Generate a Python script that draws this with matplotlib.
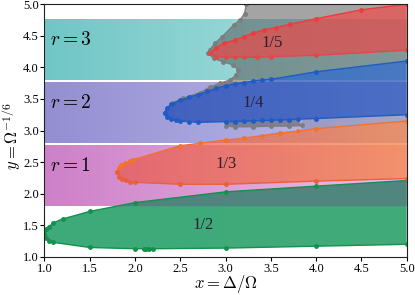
import numpy as np
import matplotlib
matplotlib.use("Agg")
import matplotlib.pyplot as plt
from matplotlib.patches import Polygon

plt.rcParams['font.family'] = 'serif'
plt.rcParams['font.serif'] = ['Liberation Serif', 'DejaVu Serif']
plt.rcParams['mathtext.fontset'] = 'cm'

# background bands r = 1, 2, 3
band_r = [1, 2, 3]
band_lo = [1.8, 2.8, 3.8]
band_hi = [2.75, 3.75, 4.75]

# 1/2 tongue (green)
g_up_x = [1.0, 1.02, 1.05, 1.1, 1.2, 1.5, 2.0, 3.0, 4.0, 5.0]
g_up_y = [1.37, 1.44, 1.48, 1.54, 1.60, 1.72, 1.86, 2.03, 2.12, 2.21]
g_lo_x = [1.0, 1.02, 1.05, 1.1, 1.5, 2.0, 2.1, 2.12, 2.15, 2.2, 3.0, 4.0, 5.0]
g_lo_y = [1.37, 1.30, 1.26, 1.23, 1.15, 1.13, 1.13, 1.13, 1.13, 1.13, 1.14, 1.17, 1.20]

# 1/3 tongue (orange)
o_up_x = [1.8, 1.82, 1.85, 1.89, 1.95, 1.98, 2.5, 2.72, 3.0, 3.2, 3.4, 3.6, 3.8, 4.0, 5.0]
o_up_y = [2.34, 2.41, 2.45, 2.48, 2.52, 2.54, 2.76, 2.80, 2.85, 2.88, 2.92, 2.96, 2.99, 3.03, 3.15]
o_lo_x = [1.8, 1.82, 1.86, 1.9, 1.95, 2.0, 2.5, 3.0, 4.0, 5.0]
o_lo_y = [2.34, 2.27, 2.24, 2.21, 2.19, 2.18, 2.15, 2.15, 2.20, 2.24]

# 1/4 tongue (blue)
b_up_x = [2.33, 2.35, 2.4, 2.5, 2.6, 2.7, 2.8, 2.9, 3.0, 3.1, 3.2, 3.3, 3.4, 3.5, 4.0, 5.0]
b_up_y = [3.28, 3.35, 3.42, 3.48, 3.53, 3.57, 3.62, 3.67, 3.71, 3.74, 3.76, 3.78, 3.80, 3.81, 3.93, 4.10]
b_lo_x = [2.33, 2.35, 2.4, 2.45, 2.5, 2.6, 2.7, 3.0, 3.1, 3.2, 3.3, 3.4, 3.5, 3.6, 3.7, 3.8, 4.0, 5.0]
b_lo_y = [3.28, 3.21, 3.18, 3.16, 3.15, 3.14, 3.13, 3.14, 3.14, 3.15, 3.15, 3.16, 3.16, 3.17, 3.17, 3.18, 3.19, 3.25]

# 1/5 tongue (red)
r_up_x = [2.83, 2.9, 2.98, 3.1, 3.2, 3.3, 3.42, 3.56, 3.71, 4.0, 4.5, 5.0]
r_up_y = [4.22, 4.31, 4.38, 4.43, 4.48, 4.54, 4.59, 4.63, 4.68, 4.77, 4.91, 5.0]
r_lo_x = [2.83, 2.9, 3.0, 3.1, 3.2, 3.35, 3.5, 4.0, 5.0]
r_lo_y = [4.22, 4.17, 4.16, 4.16, 4.16, 4.16, 4.17, 4.19, 4.27]

# grey region boundary (wiggly left edge, top to bottom)
gr_x = [3.23, 3.21, 3.16, 3.09, 2.96, 2.88, 2.83, 2.81, 2.87, 2.97, 3.08, 3.14, 3.12, 3.05, 2.94, 2.83, 2.72, 2.53, 2.42]
gr_y = [5.0, 4.85, 4.75, 4.67, 4.48, 4.38, 4.28, 4.22, 4.14, 4.09, 4.04, 3.96, 3.88, 3.80, 3.75, 3.69, 3.60, 3.51, 3.44]
# grey finger below the 1/4 tongue
fi_x = [3.84, 3.7, 3.5, 3.3, 3.1, 3.0]
fi_y = [3.08, 3.07, 3.07, 3.06, 3.06, 3.07]

labels = ['1/2', '1/3', '1/4', '1/5']
label_x = [2.75, 3.01, 3.31, 3.51]
label_y = [1.51, 2.47, 3.43, 4.38]

band_cols = [((205, 128, 200), (236, 192, 230)),
             ((148, 142, 210), (192, 192, 236)),
             ((112, 198, 198), (182, 228, 228))]


def hgrad(c0, c1, alpha=1.0, n=256):
    t = np.linspace(0, 1, n)[:, None]
    rgb = (1 - t) * np.array(c0) / 255 + t * np.array(c1) / 255
    a = np.full((n, 1), alpha)
    return np.concatenate([rgb, a], axis=1)[None, :, :]


def grad_poly(ax, xs, ys, c0, c1, alpha, z):
    patch = Polygon(np.column_stack([xs, ys]), closed=True, fc='none', ec='none')
    ax.add_patch(patch)
    im = ax.imshow(hgrad(c0, c1, alpha), extent=[1, 5, 1, 5], aspect='auto',
                   origin='lower', zorder=z, interpolation='bilinear')
    im.set_clip_path(patch)


def tongue_poly(ux, uy, lx, ly):
    xs = list(ux) + list(lx[::-1])
    ys = list(uy) + list(ly[::-1])
    return xs, ys


fig = plt.figure(figsize=(4.15, 2.95), dpi=100)
ax = fig.add_axes([0.107, 0.129, 0.873, 0.857])

for r, lo, hi, (c0, c1) in zip(band_r, band_lo, band_hi, band_cols):
    ax.imshow(hgrad(c0, c1), extent=[1, 5, lo, hi], aspect='auto',
              origin='lower', zorder=1, interpolation='bilinear')
    ax.text(1.06, (lo + hi) / 2 + 0.16, r'$r = %d$' % r, fontsize=14,
            va='center', ha='left', zorder=10)

grey = (0.35, 0.35, 0.35)
# grey region above the 1/4 tongue
gx = gr_x + b_up_x[3:] + [5.0]
gy = gr_y + b_up_y[3:] + [5.0]
ax.add_patch(Polygon(np.column_stack([gx, gy]), closed=True, fc=grey,
                     alpha=0.55, ec='none', zorder=2))
# grey finger below the 1/4 tongue
fx = b_lo_x[7:16] + fi_x
fy = b_lo_y[7:16] + fi_y
ax.add_patch(Polygon(np.column_stack([fx, fy]), closed=True, fc=grey,
                     alpha=0.55, ec='none', zorder=2))
ax.plot(gr_x, gr_y, '-o', color='#7d7d7d', lw=1, ms=2.5, zorder=3)
ax.plot(fi_x, fi_y, '-o', color='#7d7d7d', lw=1, ms=2.5, zorder=3)
# light grey strip between 1/3 and 1/4 on the right
sx = [3.84, 4.0, 5.0, 5.0, 4.0, 3.84]
sy = [3.01, 3.03, 3.15, 3.25, 3.19, 3.18]
ax.add_patch(Polygon(np.column_stack([sx, sy]), closed=True, fc=(0.35, 0.35, 0.4),
                     alpha=0.25, ec='none', zorder=2))
# grey over the 1/2 tongue inside the r=1 band
hx = [1.78] + g_up_x[6:] + [5.0]
hy = [1.8] + g_up_y[6:] + [1.8]

# tongues
xs, ys = tongue_poly(g_up_x, g_up_y, g_lo_x, g_lo_y)
grad_poly(ax, xs, ys, (36, 158, 102), (38, 160, 104), 0.88, 4)
ax.add_patch(Polygon(np.column_stack([hx, hy]), closed=True, fc=(0.42, 0.4, 0.55),
                     alpha=0.45, ec='none', zorder=4.5))
ax.plot(g_up_x, g_up_y, '-o', color='#12924c', lw=1, ms=2.5, zorder=5)
ax.plot(g_lo_x, g_lo_y, '-o', color='#12924c', lw=1, ms=2.5, zorder=5)

xs, ys = tongue_poly(o_up_x, o_up_y, o_lo_x, o_lo_y)
grad_poly(ax, xs, ys, (232, 80, 85), (245, 128, 60), 0.72, 4)
ax.plot(o_up_x, o_up_y, '-o', color='#f0742e', lw=1, ms=2.5, zorder=5)
ax.plot(o_lo_x, o_lo_y, '-o', color='#ea5f3c', lw=1, ms=2.5, zorder=5)

xs, ys = tongue_poly(b_up_x, b_up_y, b_lo_x, b_lo_y)
grad_poly(ax, xs, ys, (25, 70, 180), (25, 75, 180), 0.7, 4)
ax.plot(b_up_x, b_up_y, '-o', color='#1f5cc4', lw=1, ms=2.5, zorder=5)
ax.plot(b_lo_x, b_lo_y, '-o', color='#1f5cc4', lw=1, ms=2.5, zorder=5)

xs, ys = tongue_poly(r_up_x, r_up_y, r_lo_x, r_lo_y)
grad_poly(ax, xs, ys, (255, 60, 60), (255, 60, 60), 0.6, 4)
ax.plot(r_up_x, r_up_y, '-o', color='#ef3b3b', lw=1, ms=2.5, zorder=5)
ax.plot(r_lo_x, r_lo_y, '-o', color='#e2484a', lw=1, ms=2.5, zorder=5)

for s, x, y in zip(labels, label_x, label_y):
    ax.text(x, y, s, fontsize=12, ha='center', va='center', color='#2a2030', zorder=10)

ax.set_xlim(1, 5)
ax.set_ylim(1, 5)
ax.set_xticks(np.arange(1, 5.01, 0.5))
ax.set_yticks(np.arange(1, 5.01, 0.5))
ax.xaxis.set_major_formatter(matplotlib.ticker.FormatStrFormatter('%.1f'))
ax.yaxis.set_major_formatter(matplotlib.ticker.FormatStrFormatter('%.1f'))
ax.tick_params(labelsize=9, length=3, width=0.8, pad=1)
ax.set_xlabel(r'$x = \Delta/\Omega$', fontsize=12)
ax.xaxis.set_label_coords(0.5, -0.152)
ax.xaxis.label.set_va('bottom')
ax.set_ylabel(r'$y = \Omega^{-1/6}$', fontsize=12)
ax.yaxis.set_label_coords(-0.06, 0.48)
for sp in ax.spines.values():
    sp.set_color('#222222')
    sp.set_zorder(20)

fig.savefig('out.png', dpi=100)
